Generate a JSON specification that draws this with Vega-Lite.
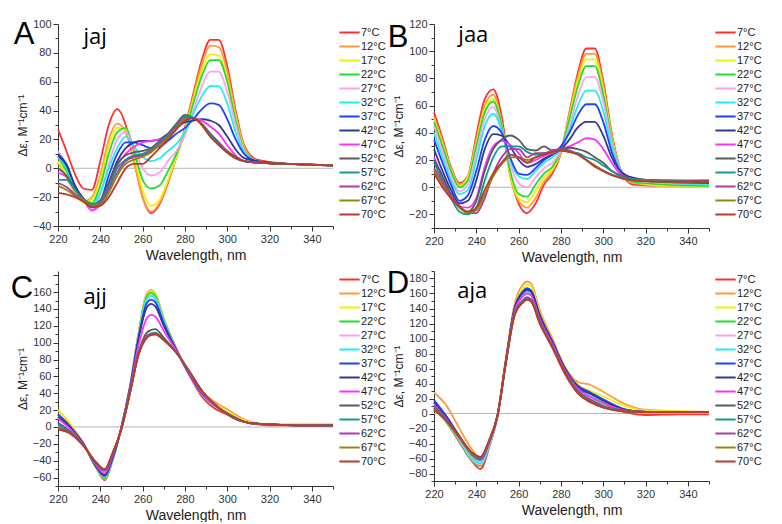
{
"$schema":"https://vega.github.io/schema/vega-lite/v6.json",
"padding":{"left":10,"top":18,"right":0,"bottom":0},
"config":{"view":{"stroke":null},"axis":{"labelFont":"Liberation Sans","labelFontSize":11,"labelColor":"#333","domainColor":"#333","tickColor":"#333","grid":false,"titleFont":"Liberation Sans","titleFontWeight":"normal","titleColor":"#222","labelOverlap":false,"labelFlush":false,"labelPadding":2,"tickCount":60},"axisX":{"titleFontSize":14,"titlePadding":4},"axisY":{"titleFontSize":12,"titlePadding":3},"legend":{"title":null,"symbolType":"M-1.4,0H1.4","symbolSize":210,"symbolStrokeWidth":2,"labelFont":"Liberation Sans","labelFontSize":11,"labelColor":"#222","rowPadding":0,"offset":4,"padding":0,"labelOffset":3}},
"datasets":{
"A":[
{"t":7,"w":220,"v":27},{"t":7,"w":224,"v":12},{"t":7,"w":228,"v":-4},{"t":7,"w":232,"v":-14},{"t":7,"w":236,"v":-15},{"t":7,"w":240,"v":5},{"t":7,"w":244,"v":30},{"t":7,"w":248,"v":41},{"t":7,"w":252,"v":30},{"t":7,"w":256,"v":5},{"t":7,"w":260,"v":-20},{"t":7,"w":264,"v":-31},{"t":7,"w":268,"v":-25},{"t":7,"w":272,"v":-10},{"t":7,"w":276,"v":8},{"t":7,"w":280,"v":28},{"t":7,"w":284,"v":52},{"t":7,"w":288,"v":75},{"t":7,"w":292,"v":89},{"t":7,"w":296,"v":89},{"t":7,"w":300,"v":71},{"t":7,"w":304,"v":40},{"t":7,"w":308,"v":16},{"t":7,"w":314,"v":6},{"t":7,"w":330,"v":3},{"t":7,"w":350,"v":2},
{"t":12,"w":220,"v":4},{"t":12,"w":224,"v":-6},{"t":12,"w":228,"v":-17},{"t":12,"w":232,"v":-23},{"t":12,"w":236,"v":-20},{"t":12,"w":240,"v":-5},{"t":12,"w":244,"v":20},{"t":12,"w":248,"v":31},{"t":12,"w":252,"v":25},{"t":12,"w":256,"v":4},{"t":12,"w":260,"v":-20},{"t":12,"w":264,"v":-30},{"t":12,"w":268,"v":-24},{"t":12,"w":272,"v":-9},{"t":12,"w":276,"v":8},{"t":12,"w":280,"v":27},{"t":12,"w":284,"v":50},{"t":12,"w":288,"v":72},{"t":12,"w":292,"v":85},{"t":12,"w":296,"v":84},{"t":12,"w":300,"v":67},{"t":12,"w":304,"v":38},{"t":12,"w":308,"v":15},{"t":12,"w":314,"v":5},{"t":12,"w":330,"v":3},{"t":12,"w":350,"v":2},
{"t":17,"w":220,"v":5},{"t":17,"w":224,"v":-5},{"t":17,"w":228,"v":-16},{"t":17,"w":232,"v":-24},{"t":17,"w":236,"v":-22},{"t":17,"w":240,"v":-8},{"t":17,"w":244,"v":15},{"t":17,"w":248,"v":28},{"t":17,"w":252,"v":27},{"t":17,"w":256,"v":8},{"t":17,"w":260,"v":-15},{"t":17,"w":264,"v":-26},{"t":17,"w":268,"v":-22},{"t":17,"w":272,"v":-8},{"t":17,"w":276,"v":8},{"t":17,"w":280,"v":26},{"t":17,"w":284,"v":48},{"t":17,"w":288,"v":68},{"t":17,"w":292,"v":79},{"t":17,"w":296,"v":78},{"t":17,"w":300,"v":62},{"t":17,"w":304,"v":35},{"t":17,"w":308,"v":14},{"t":17,"w":314,"v":5},{"t":17,"w":330,"v":3},{"t":17,"w":350,"v":2},
{"t":22,"w":220,"v":8},{"t":22,"w":224,"v":-2},{"t":22,"w":228,"v":-14},{"t":22,"w":232,"v":-22},{"t":22,"w":236,"v":-24},{"t":22,"w":240,"v":-12},{"t":22,"w":244,"v":10},{"t":22,"w":248,"v":25},{"t":22,"w":252,"v":28},{"t":22,"w":256,"v":12},{"t":22,"w":260,"v":-8},{"t":22,"w":264,"v":-14},{"t":22,"w":268,"v":-12},{"t":22,"w":272,"v":-2},{"t":22,"w":276,"v":10},{"t":22,"w":280,"v":24},{"t":22,"w":284,"v":45},{"t":22,"w":288,"v":64},{"t":22,"w":292,"v":75},{"t":22,"w":296,"v":75},{"t":22,"w":300,"v":60},{"t":22,"w":304,"v":33},{"t":22,"w":308,"v":13},{"t":22,"w":314,"v":5},{"t":22,"w":330,"v":3},{"t":22,"w":350,"v":2},
{"t":27,"w":220,"v":12},{"t":27,"w":224,"v":2},{"t":27,"w":228,"v":-12},{"t":27,"w":232,"v":-21},{"t":27,"w":236,"v":-30},{"t":27,"w":240,"v":-18},{"t":27,"w":244,"v":3},{"t":27,"w":248,"v":20},{"t":27,"w":252,"v":25},{"t":27,"w":256,"v":14},{"t":27,"w":260,"v":0},{"t":27,"w":264,"v":-5},{"t":27,"w":268,"v":-3},{"t":27,"w":272,"v":5},{"t":27,"w":276,"v":12},{"t":27,"w":280,"v":23},{"t":27,"w":284,"v":40},{"t":27,"w":288,"v":57},{"t":27,"w":292,"v":67},{"t":27,"w":296,"v":67},{"t":27,"w":300,"v":53},{"t":27,"w":304,"v":30},{"t":27,"w":308,"v":12},{"t":27,"w":314,"v":5},{"t":27,"w":330,"v":3},{"t":27,"w":350,"v":2},
{"t":32,"w":220,"v":8},{"t":32,"w":224,"v":0},{"t":32,"w":228,"v":-13},{"t":32,"w":232,"v":-21},{"t":32,"w":236,"v":-25},{"t":32,"w":240,"v":-17},{"t":32,"w":244,"v":0},{"t":32,"w":248,"v":14},{"t":32,"w":252,"v":22},{"t":32,"w":256,"v":15},{"t":32,"w":260,"v":8},{"t":32,"w":264,"v":5},{"t":32,"w":268,"v":7},{"t":32,"w":272,"v":12},{"t":32,"w":276,"v":17},{"t":32,"w":280,"v":25},{"t":32,"w":284,"v":38},{"t":32,"w":288,"v":50},{"t":32,"w":292,"v":57},{"t":32,"w":296,"v":57},{"t":32,"w":300,"v":45},{"t":32,"w":304,"v":25},{"t":32,"w":308,"v":11},{"t":32,"w":314,"v":5},{"t":32,"w":330,"v":3},{"t":32,"w":350,"v":2},
{"t":37,"w":220,"v":10},{"t":37,"w":224,"v":3},{"t":37,"w":228,"v":-12},{"t":37,"w":232,"v":-21},{"t":37,"w":236,"v":-27},{"t":37,"w":240,"v":-23},{"t":37,"w":244,"v":-5},{"t":37,"w":248,"v":10},{"t":37,"w":252,"v":18},{"t":37,"w":256,"v":18},{"t":37,"w":260,"v":16},{"t":37,"w":264,"v":14},{"t":37,"w":268,"v":15},{"t":37,"w":272,"v":19},{"t":37,"w":276,"v":24},{"t":37,"w":280,"v":28},{"t":37,"w":284,"v":34},{"t":37,"w":288,"v":41},{"t":37,"w":292,"v":45},{"t":37,"w":296,"v":44},{"t":37,"w":300,"v":34},{"t":37,"w":304,"v":20},{"t":37,"w":308,"v":10},{"t":37,"w":314,"v":5},{"t":37,"w":330,"v":3},{"t":37,"w":350,"v":2},
{"t":42,"w":220,"v":9},{"t":42,"w":224,"v":2},{"t":42,"w":228,"v":-12},{"t":42,"w":232,"v":-22},{"t":42,"w":236,"v":-27},{"t":42,"w":240,"v":-24},{"t":42,"w":244,"v":-10},{"t":42,"w":248,"v":5},{"t":42,"w":252,"v":14},{"t":42,"w":256,"v":18},{"t":42,"w":260,"v":19},{"t":42,"w":264,"v":19},{"t":42,"w":268,"v":20},{"t":42,"w":272,"v":24},{"t":42,"w":276,"v":28},{"t":42,"w":280,"v":32},{"t":42,"w":284,"v":33},{"t":42,"w":288,"v":34},{"t":42,"w":292,"v":33},{"t":42,"w":296,"v":30},{"t":42,"w":300,"v":22},{"t":42,"w":304,"v":13},{"t":42,"w":308,"v":7},{"t":42,"w":314,"v":5},{"t":42,"w":330,"v":3},{"t":42,"w":350,"v":2},
{"t":47,"w":220,"v":-3},{"t":47,"w":224,"v":-6},{"t":47,"w":228,"v":-15},{"t":47,"w":232,"v":-22},{"t":47,"w":236,"v":-29},{"t":47,"w":240,"v":-25},{"t":47,"w":244,"v":-12},{"t":47,"w":248,"v":2},{"t":47,"w":252,"v":10},{"t":47,"w":256,"v":15},{"t":47,"w":260,"v":18},{"t":47,"w":264,"v":19},{"t":47,"w":268,"v":20},{"t":47,"w":272,"v":22},{"t":47,"w":276,"v":28},{"t":47,"w":280,"v":33},{"t":47,"w":284,"v":35},{"t":47,"w":288,"v":33},{"t":47,"w":292,"v":29},{"t":47,"w":296,"v":24},{"t":47,"w":300,"v":16},{"t":47,"w":304,"v":9},{"t":47,"w":308,"v":5},{"t":47,"w":314,"v":4},{"t":47,"w":330,"v":3},{"t":47,"w":350,"v":2},
{"t":52,"w":220,"v":0},{"t":52,"w":224,"v":-5},{"t":52,"w":228,"v":-14},{"t":52,"w":232,"v":-21},{"t":52,"w":236,"v":-25},{"t":52,"w":240,"v":-22},{"t":52,"w":244,"v":-10},{"t":52,"w":248,"v":3},{"t":52,"w":252,"v":9},{"t":52,"w":256,"v":11},{"t":52,"w":260,"v":12},{"t":52,"w":264,"v":14},{"t":52,"w":268,"v":19},{"t":52,"w":272,"v":24},{"t":52,"w":276,"v":31},{"t":52,"w":280,"v":37},{"t":52,"w":284,"v":35},{"t":52,"w":288,"v":31},{"t":52,"w":292,"v":24},{"t":52,"w":296,"v":18},{"t":52,"w":300,"v":12},{"t":52,"w":304,"v":8},{"t":52,"w":308,"v":5},{"t":52,"w":314,"v":4},{"t":52,"w":330,"v":3},{"t":52,"w":350,"v":2},
{"t":57,"w":220,"v":-8},{"t":57,"w":224,"v":-8},{"t":57,"w":228,"v":-15},{"t":57,"w":232,"v":-22},{"t":57,"w":236,"v":-25},{"t":57,"w":240,"v":-23},{"t":57,"w":244,"v":-13},{"t":57,"w":248,"v":0},{"t":57,"w":252,"v":6},{"t":57,"w":256,"v":9},{"t":57,"w":260,"v":10},{"t":57,"w":264,"v":13},{"t":57,"w":268,"v":18},{"t":57,"w":272,"v":23},{"t":57,"w":276,"v":30},{"t":57,"w":280,"v":36},{"t":57,"w":284,"v":35},{"t":57,"w":288,"v":30},{"t":57,"w":292,"v":23},{"t":57,"w":296,"v":17},{"t":57,"w":300,"v":11},{"t":57,"w":304,"v":7},{"t":57,"w":308,"v":5},{"t":57,"w":314,"v":4},{"t":57,"w":330,"v":3},{"t":57,"w":350,"v":2},
{"t":62,"w":220,"v":-10},{"t":62,"w":224,"v":-13},{"t":62,"w":228,"v":-18},{"t":62,"w":232,"v":-22},{"t":62,"w":236,"v":-26},{"t":62,"w":240,"v":-24},{"t":62,"w":244,"v":-15},{"t":62,"w":248,"v":-3},{"t":62,"w":252,"v":5},{"t":62,"w":256,"v":8},{"t":62,"w":260,"v":9},{"t":62,"w":264,"v":12},{"t":62,"w":268,"v":17},{"t":62,"w":272,"v":22},{"t":62,"w":276,"v":29},{"t":62,"w":280,"v":35},{"t":62,"w":284,"v":35},{"t":62,"w":288,"v":30},{"t":62,"w":292,"v":22},{"t":62,"w":296,"v":17},{"t":62,"w":300,"v":11},{"t":62,"w":304,"v":7},{"t":62,"w":308,"v":5},{"t":62,"w":314,"v":4},{"t":62,"w":330,"v":3},{"t":62,"w":350,"v":2},
{"t":67,"w":220,"v":-12},{"t":67,"w":224,"v":-15},{"t":67,"w":228,"v":-19},{"t":67,"w":232,"v":-22},{"t":67,"w":236,"v":-26},{"t":67,"w":240,"v":-25},{"t":67,"w":244,"v":-17},{"t":67,"w":248,"v":-5},{"t":67,"w":252,"v":3},{"t":67,"w":256,"v":6},{"t":67,"w":260,"v":8},{"t":67,"w":264,"v":11},{"t":67,"w":268,"v":16},{"t":67,"w":272,"v":21},{"t":67,"w":276,"v":28},{"t":67,"w":280,"v":34},{"t":67,"w":284,"v":35},{"t":67,"w":288,"v":30},{"t":67,"w":292,"v":22},{"t":67,"w":296,"v":16},{"t":67,"w":300,"v":11},{"t":67,"w":304,"v":7},{"t":67,"w":308,"v":5},{"t":67,"w":314,"v":4},{"t":67,"w":330,"v":3},{"t":67,"w":350,"v":2},
{"t":70,"w":220,"v":-17},{"t":70,"w":224,"v":-18},{"t":70,"w":228,"v":-20},{"t":70,"w":232,"v":-23},{"t":70,"w":236,"v":-27},{"t":70,"w":240,"v":-26},{"t":70,"w":244,"v":-20},{"t":70,"w":248,"v":-10},{"t":70,"w":252,"v":0},{"t":70,"w":256,"v":3},{"t":70,"w":260,"v":3},{"t":70,"w":264,"v":8},{"t":70,"w":268,"v":14},{"t":70,"w":272,"v":20},{"t":70,"w":276,"v":27},{"t":70,"w":280,"v":33},{"t":70,"w":284,"v":35},{"t":70,"w":288,"v":30},{"t":70,"w":292,"v":22},{"t":70,"w":296,"v":16},{"t":70,"w":300,"v":11},{"t":70,"w":304,"v":7},{"t":70,"w":308,"v":5},{"t":70,"w":314,"v":4},{"t":70,"w":330,"v":3},{"t":70,"w":350,"v":2}
],
"B":[
{"t":7,"w":220,"v":55},{"t":7,"w":224,"v":36},{"t":7,"w":228,"v":15},{"t":7,"w":232,"v":3},{"t":7,"w":236,"v":8},{"t":7,"w":240,"v":38},{"t":7,"w":244,"v":65},{"t":7,"w":248,"v":72},{"t":7,"w":252,"v":52},{"t":7,"w":256,"v":10},{"t":7,"w":260,"v":-12},{"t":7,"w":264,"v":-19},{"t":7,"w":268,"v":-12},{"t":7,"w":272,"v":2},{"t":7,"w":276,"v":10},{"t":7,"w":280,"v":25},{"t":7,"w":284,"v":55},{"t":7,"w":288,"v":84},{"t":7,"w":292,"v":102},{"t":7,"w":296,"v":102},{"t":7,"w":300,"v":78},{"t":7,"w":304,"v":40},{"t":7,"w":308,"v":14},{"t":7,"w":314,"v":2},{"t":7,"w":330,"v":1},{"t":7,"w":350,"v":1},
{"t":12,"w":220,"v":52},{"t":12,"w":224,"v":34},{"t":12,"w":228,"v":14},{"t":12,"w":232,"v":2},{"t":12,"w":236,"v":8},{"t":12,"w":240,"v":35},{"t":12,"w":244,"v":60},{"t":12,"w":248,"v":68},{"t":12,"w":252,"v":47},{"t":12,"w":256,"v":8},{"t":12,"w":260,"v":-10},{"t":12,"w":264,"v":-15},{"t":12,"w":268,"v":-8},{"t":12,"w":272,"v":4},{"t":12,"w":276,"v":12},{"t":12,"w":280,"v":26},{"t":12,"w":284,"v":54},{"t":12,"w":288,"v":81},{"t":12,"w":292,"v":98},{"t":12,"w":296,"v":98},{"t":12,"w":300,"v":75},{"t":12,"w":304,"v":38},{"t":12,"w":308,"v":13},{"t":12,"w":314,"v":3},{"t":12,"w":330,"v":1},{"t":12,"w":350,"v":1},
{"t":17,"w":220,"v":50},{"t":17,"w":224,"v":32},{"t":17,"w":228,"v":13},{"t":17,"w":232,"v":1},{"t":17,"w":236,"v":7},{"t":17,"w":240,"v":32},{"t":17,"w":244,"v":58},{"t":17,"w":248,"v":65},{"t":17,"w":252,"v":46},{"t":17,"w":256,"v":10},{"t":17,"w":260,"v":-8},{"t":17,"w":264,"v":-11},{"t":17,"w":268,"v":-3},{"t":17,"w":272,"v":7},{"t":17,"w":276,"v":13},{"t":17,"w":280,"v":26},{"t":17,"w":284,"v":52},{"t":17,"w":288,"v":78},{"t":17,"w":292,"v":94},{"t":17,"w":296,"v":94},{"t":17,"w":300,"v":72},{"t":17,"w":304,"v":37},{"t":17,"w":308,"v":13},{"t":17,"w":314,"v":4},{"t":17,"w":330,"v":1},{"t":17,"w":350,"v":1},
{"t":22,"w":220,"v":48},{"t":22,"w":224,"v":30},{"t":22,"w":228,"v":12},{"t":22,"w":232,"v":0},{"t":22,"w":236,"v":5},{"t":22,"w":240,"v":30},{"t":22,"w":244,"v":55},{"t":22,"w":248,"v":63},{"t":22,"w":252,"v":45},{"t":22,"w":256,"v":12},{"t":22,"w":260,"v":-5},{"t":22,"w":264,"v":-7},{"t":22,"w":268,"v":2},{"t":22,"w":272,"v":10},{"t":22,"w":276,"v":15},{"t":22,"w":280,"v":27},{"t":22,"w":284,"v":50},{"t":22,"w":288,"v":74},{"t":22,"w":292,"v":89},{"t":22,"w":296,"v":89},{"t":22,"w":300,"v":68},{"t":22,"w":304,"v":35},{"t":22,"w":308,"v":13},{"t":22,"w":314,"v":4},{"t":22,"w":330,"v":2},{"t":22,"w":350,"v":1},
{"t":27,"w":220,"v":45},{"t":27,"w":224,"v":26},{"t":27,"w":228,"v":8},{"t":27,"w":232,"v":-3},{"t":27,"w":236,"v":2},{"t":27,"w":240,"v":25},{"t":27,"w":244,"v":50},{"t":27,"w":248,"v":59},{"t":27,"w":252,"v":42},{"t":27,"w":256,"v":17},{"t":27,"w":260,"v":3},{"t":27,"w":264,"v":0},{"t":27,"w":268,"v":7},{"t":27,"w":272,"v":14},{"t":27,"w":276,"v":18},{"t":27,"w":280,"v":27},{"t":27,"w":284,"v":45},{"t":27,"w":288,"v":67},{"t":27,"w":292,"v":81},{"t":27,"w":296,"v":81},{"t":27,"w":300,"v":63},{"t":27,"w":304,"v":33},{"t":27,"w":308,"v":13},{"t":27,"w":314,"v":5},{"t":27,"w":330,"v":3},{"t":27,"w":350,"v":2},
{"t":32,"w":220,"v":40},{"t":32,"w":224,"v":22},{"t":32,"w":228,"v":5},{"t":32,"w":232,"v":-5},{"t":32,"w":236,"v":-2},{"t":32,"w":240,"v":20},{"t":32,"w":244,"v":45},{"t":32,"w":248,"v":54},{"t":32,"w":252,"v":42},{"t":32,"w":256,"v":20},{"t":32,"w":260,"v":8},{"t":32,"w":264,"v":6},{"t":32,"w":268,"v":12},{"t":32,"w":272,"v":18},{"t":32,"w":276,"v":22},{"t":32,"w":280,"v":28},{"t":32,"w":284,"v":42},{"t":32,"w":288,"v":60},{"t":32,"w":292,"v":71},{"t":32,"w":296,"v":71},{"t":32,"w":300,"v":56},{"t":32,"w":304,"v":30},{"t":32,"w":308,"v":13},{"t":32,"w":314,"v":6},{"t":32,"w":330,"v":3},{"t":32,"w":350,"v":2},
{"t":37,"w":220,"v":35},{"t":37,"w":224,"v":18},{"t":37,"w":228,"v":2},{"t":37,"w":232,"v":-10},{"t":37,"w":236,"v":-6},{"t":37,"w":240,"v":12},{"t":37,"w":244,"v":35},{"t":37,"w":248,"v":45},{"t":37,"w":252,"v":40},{"t":37,"w":256,"v":22},{"t":37,"w":260,"v":10},{"t":37,"w":264,"v":9},{"t":37,"w":268,"v":14},{"t":37,"w":272,"v":20},{"t":37,"w":276,"v":24},{"t":37,"w":280,"v":30},{"t":37,"w":284,"v":40},{"t":37,"w":288,"v":53},{"t":37,"w":292,"v":61},{"t":37,"w":296,"v":61},{"t":37,"w":300,"v":48},{"t":37,"w":304,"v":26},{"t":37,"w":308,"v":12},{"t":37,"w":314,"v":6},{"t":37,"w":330,"v":4},{"t":37,"w":350,"v":3},
{"t":42,"w":220,"v":28},{"t":42,"w":224,"v":12},{"t":42,"w":228,"v":-2},{"t":42,"w":232,"v":-12},{"t":42,"w":236,"v":-10},{"t":42,"w":240,"v":5},{"t":42,"w":244,"v":28},{"t":42,"w":248,"v":39},{"t":42,"w":252,"v":38},{"t":42,"w":256,"v":30},{"t":42,"w":260,"v":20},{"t":42,"w":264,"v":15},{"t":42,"w":268,"v":17},{"t":42,"w":272,"v":21},{"t":42,"w":276,"v":24},{"t":42,"w":280,"v":28},{"t":42,"w":284,"v":35},{"t":42,"w":288,"v":44},{"t":42,"w":292,"v":48},{"t":42,"w":296,"v":48},{"t":42,"w":300,"v":38},{"t":42,"w":304,"v":22},{"t":42,"w":308,"v":12},{"t":42,"w":314,"v":7},{"t":42,"w":330,"v":4},{"t":42,"w":350,"v":4},
{"t":47,"w":220,"v":22},{"t":47,"w":224,"v":8},{"t":47,"w":228,"v":-6},{"t":47,"w":232,"v":-14},{"t":47,"w":236,"v":-15},{"t":47,"w":240,"v":-8},{"t":47,"w":244,"v":15},{"t":47,"w":248,"v":30},{"t":47,"w":252,"v":34},{"t":47,"w":256,"v":31},{"t":47,"w":260,"v":25},{"t":47,"w":264,"v":18},{"t":47,"w":268,"v":20},{"t":47,"w":272,"v":23},{"t":47,"w":276,"v":25},{"t":47,"w":280,"v":28},{"t":47,"w":284,"v":30},{"t":47,"w":288,"v":33},{"t":47,"w":292,"v":36},{"t":47,"w":296,"v":35},{"t":47,"w":300,"v":28},{"t":47,"w":304,"v":18},{"t":47,"w":308,"v":10},{"t":47,"w":314,"v":6},{"t":47,"w":330,"v":4},{"t":47,"w":350,"v":4},
{"t":52,"w":220,"v":20},{"t":52,"w":224,"v":8},{"t":52,"w":228,"v":-5},{"t":52,"w":232,"v":-15},{"t":52,"w":236,"v":-18},{"t":52,"w":240,"v":-10},{"t":52,"w":244,"v":12},{"t":52,"w":248,"v":28},{"t":52,"w":252,"v":35},{"t":52,"w":256,"v":38},{"t":52,"w":260,"v":35},{"t":52,"w":264,"v":28},{"t":52,"w":268,"v":27},{"t":52,"w":272,"v":30},{"t":52,"w":276,"v":27},{"t":52,"w":280,"v":28},{"t":52,"w":284,"v":29},{"t":52,"w":288,"v":28},{"t":52,"w":292,"v":26},{"t":52,"w":296,"v":22},{"t":52,"w":300,"v":18},{"t":52,"w":304,"v":12},{"t":52,"w":308,"v":9},{"t":52,"w":314,"v":6},{"t":52,"w":330,"v":5},{"t":52,"w":350,"v":4},
{"t":57,"w":220,"v":18},{"t":57,"w":224,"v":5},{"t":57,"w":228,"v":-8},{"t":57,"w":232,"v":-18},{"t":57,"w":236,"v":-20},{"t":57,"w":240,"v":-15},{"t":57,"w":244,"v":5},{"t":57,"w":248,"v":22},{"t":57,"w":252,"v":30},{"t":57,"w":256,"v":30},{"t":57,"w":260,"v":30},{"t":57,"w":264,"v":26},{"t":57,"w":268,"v":24},{"t":57,"w":272,"v":25},{"t":57,"w":276,"v":26},{"t":57,"w":280,"v":27},{"t":57,"w":284,"v":26},{"t":57,"w":288,"v":25},{"t":57,"w":292,"v":22},{"t":57,"w":296,"v":20},{"t":57,"w":300,"v":16},{"t":57,"w":304,"v":12},{"t":57,"w":308,"v":8},{"t":57,"w":314,"v":6},{"t":57,"w":330,"v":5},{"t":57,"w":350,"v":5},
{"t":62,"w":220,"v":14},{"t":62,"w":224,"v":4},{"t":62,"w":228,"v":-6},{"t":62,"w":232,"v":-14},{"t":62,"w":236,"v":-19},{"t":62,"w":240,"v":-19},{"t":62,"w":244,"v":-8},{"t":62,"w":248,"v":10},{"t":62,"w":252,"v":22},{"t":62,"w":256,"v":28},{"t":62,"w":260,"v":28},{"t":62,"w":264,"v":22},{"t":62,"w":268,"v":25},{"t":62,"w":272,"v":25},{"t":62,"w":276,"v":27},{"t":62,"w":280,"v":28},{"t":62,"w":284,"v":27},{"t":62,"w":288,"v":24},{"t":62,"w":292,"v":20},{"t":62,"w":296,"v":16},{"t":62,"w":300,"v":12},{"t":62,"w":304,"v":9},{"t":62,"w":308,"v":7},{"t":62,"w":314,"v":5},{"t":62,"w":330,"v":4},{"t":62,"w":350,"v":5},
{"t":67,"w":220,"v":12},{"t":67,"w":224,"v":2},{"t":67,"w":228,"v":-8},{"t":67,"w":232,"v":-15},{"t":67,"w":236,"v":-19},{"t":67,"w":240,"v":-17},{"t":67,"w":244,"v":-5},{"t":67,"w":248,"v":8},{"t":67,"w":252,"v":17},{"t":67,"w":256,"v":22},{"t":67,"w":260,"v":22},{"t":67,"w":264,"v":20},{"t":67,"w":268,"v":22},{"t":67,"w":272,"v":24},{"t":67,"w":276,"v":26},{"t":67,"w":280,"v":27},{"t":67,"w":284,"v":26},{"t":67,"w":288,"v":24},{"t":67,"w":292,"v":20},{"t":67,"w":296,"v":16},{"t":67,"w":300,"v":12},{"t":67,"w":304,"v":9},{"t":67,"w":308,"v":7},{"t":67,"w":314,"v":5},{"t":67,"w":330,"v":4},{"t":67,"w":350,"v":4},
{"t":70,"w":220,"v":10},{"t":70,"w":224,"v":0},{"t":70,"w":228,"v":-8},{"t":70,"w":232,"v":-14},{"t":70,"w":236,"v":-18},{"t":70,"w":240,"v":-15},{"t":70,"w":244,"v":-2},{"t":70,"w":248,"v":10},{"t":70,"w":252,"v":18},{"t":70,"w":256,"v":24},{"t":70,"w":260,"v":22},{"t":70,"w":264,"v":18},{"t":70,"w":268,"v":22},{"t":70,"w":272,"v":24},{"t":70,"w":276,"v":26},{"t":70,"w":280,"v":27},{"t":70,"w":284,"v":26},{"t":70,"w":288,"v":24},{"t":70,"w":292,"v":20},{"t":70,"w":296,"v":15},{"t":70,"w":300,"v":12},{"t":70,"w":304,"v":9},{"t":70,"w":308,"v":7},{"t":70,"w":314,"v":5},{"t":70,"w":330,"v":4},{"t":70,"w":350,"v":4}
],
"C":[
{"t":7,"w":220,"v":15},{"t":7,"w":226,"v":0},{"t":7,"w":232,"v":-20},{"t":7,"w":238,"v":-48},{"t":7,"w":242,"v":-63},{"t":7,"w":246,"v":-38},{"t":7,"w":250,"v":0},{"t":7,"w":254,"v":48},{"t":7,"w":258,"v":110},{"t":7,"w":262,"v":158},{"t":7,"w":264,"v":162},{"t":7,"w":266,"v":158},{"t":7,"w":270,"v":128},{"t":7,"w":276,"v":92},{"t":7,"w":282,"v":62},{"t":7,"w":288,"v":36},{"t":7,"w":294,"v":22},{"t":7,"w":300,"v":15},{"t":7,"w":310,"v":5},{"t":7,"w":320,"v":2},{"t":7,"w":335,"v":2},{"t":7,"w":350,"v":2},
{"t":12,"w":220,"v":20},{"t":12,"w":226,"v":3},{"t":12,"w":232,"v":-19},{"t":12,"w":238,"v":-48},{"t":12,"w":242,"v":-62},{"t":12,"w":246,"v":-38},{"t":12,"w":250,"v":0},{"t":12,"w":254,"v":48},{"t":12,"w":258,"v":110},{"t":12,"w":262,"v":158},{"t":12,"w":264,"v":162},{"t":12,"w":266,"v":158},{"t":12,"w":270,"v":129},{"t":12,"w":276,"v":93},{"t":12,"w":282,"v":64},{"t":12,"w":288,"v":42},{"t":12,"w":294,"v":30},{"t":12,"w":300,"v":21},{"t":12,"w":310,"v":7},{"t":12,"w":320,"v":3},{"t":12,"w":335,"v":3},{"t":12,"w":350,"v":3},
{"t":17,"w":220,"v":20},{"t":17,"w":226,"v":3},{"t":17,"w":232,"v":-20},{"t":17,"w":238,"v":-48},{"t":17,"w":242,"v":-61},{"t":17,"w":246,"v":-38},{"t":17,"w":250,"v":0},{"t":17,"w":254,"v":48},{"t":17,"w":258,"v":109},{"t":17,"w":262,"v":157},{"t":17,"w":264,"v":161},{"t":17,"w":266,"v":157},{"t":17,"w":270,"v":128},{"t":17,"w":276,"v":92},{"t":17,"w":282,"v":63},{"t":17,"w":288,"v":40},{"t":17,"w":294,"v":27},{"t":17,"w":300,"v":18},{"t":17,"w":310,"v":6},{"t":17,"w":320,"v":3},{"t":17,"w":335,"v":2},{"t":17,"w":350,"v":2},
{"t":22,"w":220,"v":15},{"t":22,"w":226,"v":0},{"t":22,"w":232,"v":-20},{"t":22,"w":238,"v":-48},{"t":22,"w":242,"v":-61},{"t":22,"w":246,"v":-37},{"t":22,"w":250,"v":0},{"t":22,"w":254,"v":47},{"t":22,"w":258,"v":108},{"t":22,"w":262,"v":155},{"t":22,"w":264,"v":159},{"t":22,"w":266,"v":155},{"t":22,"w":270,"v":127},{"t":22,"w":276,"v":92},{"t":22,"w":282,"v":63},{"t":22,"w":288,"v":39},{"t":22,"w":294,"v":25},{"t":22,"w":300,"v":16},{"t":22,"w":310,"v":5},{"t":22,"w":320,"v":3},{"t":22,"w":335,"v":2},{"t":22,"w":350,"v":2},
{"t":27,"w":220,"v":12},{"t":27,"w":226,"v":-1},{"t":27,"w":232,"v":-20},{"t":27,"w":238,"v":-47},{"t":27,"w":242,"v":-59},{"t":27,"w":246,"v":-37},{"t":27,"w":250,"v":0},{"t":27,"w":254,"v":47},{"t":27,"w":258,"v":107},{"t":27,"w":262,"v":151},{"t":27,"w":264,"v":155},{"t":27,"w":266,"v":152},{"t":27,"w":270,"v":125},{"t":27,"w":276,"v":91},{"t":27,"w":282,"v":63},{"t":27,"w":288,"v":39},{"t":27,"w":294,"v":25},{"t":27,"w":300,"v":16},{"t":27,"w":310,"v":5},{"t":27,"w":320,"v":3},{"t":27,"w":335,"v":2},{"t":27,"w":350,"v":2},
{"t":32,"w":220,"v":14},{"t":32,"w":226,"v":-1},{"t":32,"w":232,"v":-20},{"t":32,"w":238,"v":-47},{"t":32,"w":242,"v":-59},{"t":32,"w":246,"v":-37},{"t":32,"w":250,"v":0},{"t":32,"w":254,"v":47},{"t":32,"w":258,"v":107},{"t":32,"w":262,"v":152},{"t":32,"w":264,"v":156},{"t":32,"w":266,"v":152},{"t":32,"w":270,"v":125},{"t":32,"w":276,"v":91},{"t":32,"w":282,"v":63},{"t":32,"w":288,"v":39},{"t":32,"w":294,"v":25},{"t":32,"w":300,"v":16},{"t":32,"w":310,"v":5},{"t":32,"w":320,"v":3},{"t":32,"w":335,"v":2},{"t":32,"w":350,"v":2},
{"t":37,"w":220,"v":15},{"t":37,"w":226,"v":0},{"t":37,"w":232,"v":-20},{"t":37,"w":238,"v":-47},{"t":37,"w":242,"v":-58},{"t":37,"w":246,"v":-36},{"t":37,"w":250,"v":0},{"t":37,"w":254,"v":46},{"t":37,"w":258,"v":105},{"t":37,"w":262,"v":147},{"t":37,"w":264,"v":151},{"t":37,"w":266,"v":148},{"t":37,"w":270,"v":123},{"t":37,"w":276,"v":91},{"t":37,"w":282,"v":63},{"t":37,"w":288,"v":40},{"t":37,"w":294,"v":26},{"t":37,"w":300,"v":16},{"t":37,"w":310,"v":5},{"t":37,"w":320,"v":3},{"t":37,"w":335,"v":2},{"t":37,"w":350,"v":2},
{"t":42,"w":220,"v":12},{"t":42,"w":226,"v":-1},{"t":42,"w":232,"v":-20},{"t":42,"w":238,"v":-46},{"t":42,"w":242,"v":-57},{"t":42,"w":246,"v":-35},{"t":42,"w":250,"v":0},{"t":42,"w":254,"v":46},{"t":42,"w":258,"v":103},{"t":42,"w":262,"v":142},{"t":42,"w":264,"v":146},{"t":42,"w":266,"v":143},{"t":42,"w":270,"v":120},{"t":42,"w":276,"v":91},{"t":42,"w":282,"v":63},{"t":42,"w":288,"v":40},{"t":42,"w":294,"v":26},{"t":42,"w":300,"v":16},{"t":42,"w":310,"v":5},{"t":42,"w":320,"v":3},{"t":42,"w":335,"v":2},{"t":42,"w":350,"v":2},
{"t":47,"w":220,"v":10},{"t":47,"w":226,"v":-3},{"t":47,"w":232,"v":-21},{"t":47,"w":238,"v":-45},{"t":47,"w":242,"v":-55},{"t":47,"w":246,"v":-33},{"t":47,"w":250,"v":-1},{"t":47,"w":254,"v":44},{"t":47,"w":258,"v":96},{"t":47,"w":262,"v":129},{"t":47,"w":264,"v":133},{"t":47,"w":266,"v":131},{"t":47,"w":270,"v":114},{"t":47,"w":276,"v":90},{"t":47,"w":282,"v":64},{"t":47,"w":288,"v":41},{"t":47,"w":294,"v":26},{"t":47,"w":300,"v":15},{"t":47,"w":310,"v":5},{"t":47,"w":320,"v":3},{"t":47,"w":335,"v":2},{"t":47,"w":350,"v":2},
{"t":52,"w":220,"v":5},{"t":52,"w":226,"v":-6},{"t":52,"w":232,"v":-22},{"t":52,"w":238,"v":-43},{"t":52,"w":242,"v":-52},{"t":52,"w":246,"v":-31},{"t":52,"w":250,"v":-2},{"t":52,"w":254,"v":41},{"t":52,"w":258,"v":88},{"t":52,"w":262,"v":112},{"t":52,"w":264,"v":115},{"t":52,"w":266,"v":116},{"t":52,"w":270,"v":106},{"t":52,"w":276,"v":88},{"t":52,"w":282,"v":66},{"t":52,"w":288,"v":43},{"t":52,"w":294,"v":27},{"t":52,"w":300,"v":15},{"t":52,"w":310,"v":5},{"t":52,"w":320,"v":3},{"t":52,"w":335,"v":2},{"t":52,"w":350,"v":2},
{"t":57,"w":220,"v":3},{"t":57,"w":226,"v":-7},{"t":57,"w":232,"v":-22},{"t":57,"w":238,"v":-42},{"t":57,"w":242,"v":-51},{"t":57,"w":246,"v":-30},{"t":57,"w":250,"v":-2},{"t":57,"w":254,"v":40},{"t":57,"w":258,"v":86},{"t":57,"w":262,"v":108},{"t":57,"w":264,"v":111},{"t":57,"w":266,"v":112},{"t":57,"w":270,"v":104},{"t":57,"w":276,"v":88},{"t":57,"w":282,"v":66},{"t":57,"w":288,"v":43},{"t":57,"w":294,"v":27},{"t":57,"w":300,"v":15},{"t":57,"w":310,"v":5},{"t":57,"w":320,"v":3},{"t":57,"w":335,"v":2},{"t":57,"w":350,"v":2},
{"t":62,"w":220,"v":0},{"t":62,"w":226,"v":-8},{"t":62,"w":232,"v":-22},{"t":62,"w":238,"v":-42},{"t":62,"w":242,"v":-51},{"t":62,"w":246,"v":-30},{"t":62,"w":250,"v":-2},{"t":62,"w":254,"v":40},{"t":62,"w":258,"v":85},{"t":62,"w":262,"v":107},{"t":62,"w":264,"v":110},{"t":62,"w":266,"v":111},{"t":62,"w":270,"v":103},{"t":62,"w":276,"v":88},{"t":62,"w":282,"v":66},{"t":62,"w":288,"v":43},{"t":62,"w":294,"v":27},{"t":62,"w":300,"v":15},{"t":62,"w":310,"v":5},{"t":62,"w":320,"v":3},{"t":62,"w":335,"v":2},{"t":62,"w":350,"v":2},
{"t":67,"w":220,"v":-2},{"t":67,"w":226,"v":-8},{"t":67,"w":232,"v":-22},{"t":67,"w":238,"v":-42},{"t":67,"w":242,"v":-50},{"t":67,"w":246,"v":-30},{"t":67,"w":250,"v":-2},{"t":67,"w":254,"v":40},{"t":67,"w":258,"v":85},{"t":67,"w":262,"v":106},{"t":67,"w":264,"v":109},{"t":67,"w":266,"v":110},{"t":67,"w":270,"v":103},{"t":67,"w":276,"v":88},{"t":67,"w":282,"v":66},{"t":67,"w":288,"v":43},{"t":67,"w":294,"v":27},{"t":67,"w":300,"v":15},{"t":67,"w":310,"v":5},{"t":67,"w":320,"v":3},{"t":67,"w":335,"v":2},{"t":67,"w":350,"v":2},
{"t":70,"w":220,"v":-3},{"t":70,"w":226,"v":-8},{"t":70,"w":232,"v":-22},{"t":70,"w":238,"v":-42},{"t":70,"w":242,"v":-50},{"t":70,"w":246,"v":-30},{"t":70,"w":250,"v":-2},{"t":70,"w":254,"v":40},{"t":70,"w":258,"v":85},{"t":70,"w":262,"v":106},{"t":70,"w":264,"v":109},{"t":70,"w":266,"v":110},{"t":70,"w":270,"v":103},{"t":70,"w":276,"v":88},{"t":70,"w":282,"v":66},{"t":70,"w":288,"v":43},{"t":70,"w":294,"v":27},{"t":70,"w":300,"v":15},{"t":70,"w":310,"v":5},{"t":70,"w":320,"v":3},{"t":70,"w":335,"v":2},{"t":70,"w":350,"v":2}
],
"D":[
{"t":7,"w":220,"v":8},{"t":7,"w":226,"v":-12},{"t":7,"w":232,"v":-38},{"t":7,"w":238,"v":-64},{"t":7,"w":242,"v":-74},{"t":7,"w":246,"v":-46},{"t":7,"w":250,"v":-4},{"t":7,"w":254,"v":70},{"t":7,"w":258,"v":135},{"t":7,"w":262,"v":158},{"t":7,"w":264,"v":162},{"t":7,"w":266,"v":158},{"t":7,"w":270,"v":124},{"t":7,"w":276,"v":88},{"t":7,"w":282,"v":52},{"t":7,"w":288,"v":28},{"t":7,"w":294,"v":18},{"t":7,"w":300,"v":10},{"t":7,"w":310,"v":2},{"t":7,"w":320,"v":-2},{"t":7,"w":335,"v":-1},{"t":7,"w":350,"v":-1},
{"t":12,"w":220,"v":28},{"t":12,"w":226,"v":10},{"t":12,"w":232,"v":-20},{"t":12,"w":238,"v":-48},{"t":12,"w":242,"v":-60},{"t":12,"w":246,"v":-36},{"t":12,"w":250,"v":-2},{"t":12,"w":254,"v":74},{"t":12,"w":258,"v":145},{"t":12,"w":262,"v":172},{"t":12,"w":264,"v":176},{"t":12,"w":266,"v":173},{"t":12,"w":270,"v":138},{"t":12,"w":276,"v":100},{"t":12,"w":282,"v":62},{"t":12,"w":288,"v":42},{"t":12,"w":294,"v":38},{"t":12,"w":300,"v":29},{"t":12,"w":310,"v":13},{"t":12,"w":320,"v":5},{"t":12,"w":335,"v":3},{"t":12,"w":350,"v":2},
{"t":17,"w":220,"v":14},{"t":17,"w":226,"v":-5},{"t":17,"w":232,"v":-30},{"t":17,"w":238,"v":-57},{"t":17,"w":242,"v":-66},{"t":17,"w":246,"v":-41},{"t":17,"w":250,"v":-3},{"t":17,"w":254,"v":72},{"t":17,"w":258,"v":141},{"t":17,"w":262,"v":167},{"t":17,"w":264,"v":172},{"t":17,"w":266,"v":169},{"t":17,"w":270,"v":135},{"t":17,"w":276,"v":97},{"t":17,"w":282,"v":60},{"t":17,"w":288,"v":38},{"t":17,"w":294,"v":30},{"t":17,"w":300,"v":23},{"t":17,"w":310,"v":10},{"t":17,"w":320,"v":4},{"t":17,"w":335,"v":3},{"t":17,"w":350,"v":2},
{"t":22,"w":220,"v":10},{"t":22,"w":226,"v":-12},{"t":22,"w":232,"v":-37},{"t":22,"w":238,"v":-63},{"t":22,"w":242,"v":-70},{"t":22,"w":246,"v":-44},{"t":22,"w":250,"v":-4},{"t":22,"w":254,"v":70},{"t":22,"w":258,"v":137},{"t":22,"w":262,"v":160},{"t":22,"w":264,"v":164},{"t":22,"w":266,"v":161},{"t":22,"w":270,"v":128},{"t":22,"w":276,"v":91},{"t":22,"w":282,"v":55},{"t":22,"w":288,"v":30},{"t":22,"w":294,"v":20},{"t":22,"w":300,"v":13},{"t":22,"w":310,"v":4},{"t":22,"w":320,"v":2},{"t":22,"w":335,"v":2},{"t":22,"w":350,"v":2},
{"t":27,"w":220,"v":12},{"t":27,"w":226,"v":-10},{"t":27,"w":232,"v":-35},{"t":27,"w":238,"v":-61},{"t":27,"w":242,"v":-68},{"t":27,"w":246,"v":-43},{"t":27,"w":250,"v":-4},{"t":27,"w":254,"v":70},{"t":27,"w":258,"v":136},{"t":27,"w":262,"v":157},{"t":27,"w":264,"v":161},{"t":27,"w":266,"v":158},{"t":27,"w":270,"v":126},{"t":27,"w":276,"v":90},{"t":27,"w":282,"v":55},{"t":27,"w":288,"v":31},{"t":27,"w":294,"v":21},{"t":27,"w":300,"v":14},{"t":27,"w":310,"v":4},{"t":27,"w":320,"v":1},{"t":27,"w":335,"v":1},{"t":27,"w":350,"v":1},
{"t":32,"w":220,"v":14},{"t":32,"w":226,"v":-8},{"t":32,"w":232,"v":-33},{"t":32,"w":238,"v":-59},{"t":32,"w":242,"v":-66},{"t":32,"w":246,"v":-42},{"t":32,"w":250,"v":-4},{"t":32,"w":254,"v":70},{"t":32,"w":258,"v":137},{"t":32,"w":262,"v":159},{"t":32,"w":264,"v":163},{"t":32,"w":266,"v":160},{"t":32,"w":270,"v":128},{"t":32,"w":276,"v":92},{"t":32,"w":282,"v":57},{"t":32,"w":288,"v":33},{"t":32,"w":294,"v":23},{"t":32,"w":300,"v":15},{"t":32,"w":310,"v":5},{"t":32,"w":320,"v":2},{"t":32,"w":335,"v":2},{"t":32,"w":350,"v":2},
{"t":37,"w":220,"v":18},{"t":37,"w":226,"v":-4},{"t":37,"w":232,"v":-30},{"t":37,"w":238,"v":-55},{"t":37,"w":242,"v":-62},{"t":37,"w":246,"v":-39},{"t":37,"w":250,"v":-3},{"t":37,"w":254,"v":71},{"t":37,"w":258,"v":140},{"t":37,"w":262,"v":163},{"t":37,"w":264,"v":167},{"t":37,"w":266,"v":164},{"t":37,"w":270,"v":132},{"t":37,"w":276,"v":96},{"t":37,"w":282,"v":60},{"t":37,"w":288,"v":37},{"t":37,"w":294,"v":28},{"t":37,"w":300,"v":19},{"t":37,"w":310,"v":6},{"t":37,"w":320,"v":2},{"t":37,"w":335,"v":2},{"t":37,"w":350,"v":2},
{"t":42,"w":220,"v":15},{"t":42,"w":226,"v":-6},{"t":42,"w":232,"v":-31},{"t":42,"w":238,"v":-54},{"t":42,"w":242,"v":-60},{"t":42,"w":246,"v":-38},{"t":42,"w":250,"v":-3},{"t":42,"w":254,"v":71},{"t":42,"w":258,"v":139},{"t":42,"w":262,"v":161},{"t":42,"w":264,"v":165},{"t":42,"w":266,"v":162},{"t":42,"w":270,"v":130},{"t":42,"w":276,"v":95},{"t":42,"w":282,"v":59},{"t":42,"w":288,"v":35},{"t":42,"w":294,"v":26},{"t":42,"w":300,"v":17},{"t":42,"w":310,"v":5},{"t":42,"w":320,"v":2},{"t":42,"w":335,"v":2},{"t":42,"w":350,"v":2},
{"t":47,"w":220,"v":12},{"t":47,"w":226,"v":-8},{"t":47,"w":232,"v":-32},{"t":47,"w":238,"v":-55},{"t":47,"w":242,"v":-61},{"t":47,"w":246,"v":-39},{"t":47,"w":250,"v":-3},{"t":47,"w":254,"v":70},{"t":47,"w":258,"v":136},{"t":47,"w":262,"v":156},{"t":47,"w":264,"v":160},{"t":47,"w":266,"v":157},{"t":47,"w":270,"v":126},{"t":47,"w":276,"v":92},{"t":47,"w":282,"v":57},{"t":47,"w":288,"v":33},{"t":47,"w":294,"v":22},{"t":47,"w":300,"v":14},{"t":47,"w":310,"v":4},{"t":47,"w":320,"v":2},{"t":47,"w":335,"v":2},{"t":47,"w":350,"v":2},
{"t":52,"w":220,"v":10},{"t":52,"w":226,"v":-9},{"t":52,"w":232,"v":-32},{"t":52,"w":238,"v":-54},{"t":52,"w":242,"v":-60},{"t":52,"w":246,"v":-38},{"t":52,"w":250,"v":-3},{"t":52,"w":254,"v":69},{"t":52,"w":258,"v":133},{"t":52,"w":262,"v":151},{"t":52,"w":264,"v":155},{"t":52,"w":266,"v":152},{"t":52,"w":270,"v":123},{"t":52,"w":276,"v":89},{"t":52,"w":282,"v":55},{"t":52,"w":288,"v":30},{"t":52,"w":294,"v":18},{"t":52,"w":300,"v":10},{"t":52,"w":310,"v":4},{"t":52,"w":320,"v":2},{"t":52,"w":335,"v":2},{"t":52,"w":350,"v":2},
{"t":57,"w":220,"v":8},{"t":57,"w":226,"v":-10},{"t":57,"w":232,"v":-32},{"t":57,"w":238,"v":-54},{"t":57,"w":242,"v":-60},{"t":57,"w":246,"v":-38},{"t":57,"w":250,"v":-3},{"t":57,"w":254,"v":69},{"t":57,"w":258,"v":132},{"t":57,"w":262,"v":150},{"t":57,"w":264,"v":154},{"t":57,"w":266,"v":151},{"t":57,"w":270,"v":122},{"t":57,"w":276,"v":89},{"t":57,"w":282,"v":55},{"t":57,"w":288,"v":29},{"t":57,"w":294,"v":17},{"t":57,"w":300,"v":9},{"t":57,"w":310,"v":4},{"t":57,"w":320,"v":2},{"t":57,"w":335,"v":2},{"t":57,"w":350,"v":2},
{"t":62,"w":220,"v":6},{"t":62,"w":226,"v":-10},{"t":62,"w":232,"v":-32},{"t":62,"w":238,"v":-53},{"t":62,"w":242,"v":-59},{"t":62,"w":246,"v":-37},{"t":62,"w":250,"v":-3},{"t":62,"w":254,"v":68},{"t":62,"w":258,"v":131},{"t":62,"w":262,"v":149},{"t":62,"w":264,"v":153},{"t":62,"w":266,"v":150},{"t":62,"w":270,"v":121},{"t":62,"w":276,"v":88},{"t":62,"w":282,"v":54},{"t":62,"w":288,"v":28},{"t":62,"w":294,"v":16},{"t":62,"w":300,"v":8},{"t":62,"w":310,"v":3},{"t":62,"w":320,"v":2},{"t":62,"w":335,"v":2},{"t":62,"w":350,"v":2},
{"t":67,"w":220,"v":5},{"t":67,"w":226,"v":-10},{"t":67,"w":232,"v":-32},{"t":67,"w":238,"v":-53},{"t":67,"w":242,"v":-58},{"t":67,"w":246,"v":-37},{"t":67,"w":250,"v":-3},{"t":67,"w":254,"v":68},{"t":67,"w":258,"v":130},{"t":67,"w":262,"v":148},{"t":67,"w":264,"v":152},{"t":67,"w":266,"v":149},{"t":67,"w":270,"v":120},{"t":67,"w":276,"v":88},{"t":67,"w":282,"v":54},{"t":67,"w":288,"v":27},{"t":67,"w":294,"v":15},{"t":67,"w":300,"v":8},{"t":67,"w":310,"v":3},{"t":67,"w":320,"v":2},{"t":67,"w":335,"v":2},{"t":67,"w":350,"v":2},
{"t":70,"w":220,"v":5},{"t":70,"w":226,"v":-10},{"t":70,"w":232,"v":-31},{"t":70,"w":238,"v":-52},{"t":70,"w":242,"v":-58},{"t":70,"w":246,"v":-36},{"t":70,"w":250,"v":-3},{"t":70,"w":254,"v":68},{"t":70,"w":258,"v":130},{"t":70,"w":262,"v":148},{"t":70,"w":264,"v":152},{"t":70,"w":266,"v":149},{"t":70,"w":270,"v":120},{"t":70,"w":276,"v":88},{"t":70,"w":282,"v":54},{"t":70,"w":288,"v":27},{"t":70,"w":294,"v":15},{"t":70,"w":300,"v":8},{"t":70,"w":310,"v":3},{"t":70,"w":320,"v":2},{"t":70,"w":335,"v":2},{"t":70,"w":350,"v":2}
]
},
"columns":2,
"spacing":{"row":1,"column":0},
"resolve":{"scale":{"color":"independent","x":"independent","y":"independent"},"legend":{"color":"independent"}},
"concat":[
{"width":275,"height":202,"layer":[
{"data":{"values":[{}]},"mark":{"type":"rule","color":"#b4b4b4","strokeWidth":1},"encoding":{"y":{"datum":0}}},
{"data":{"name":"A"},"mark":{"type":"line","strokeWidth":1.8,"interpolate":"monotone"},"encoding":{
"x":{"field":"w","type":"quantitative","scale":{"domain":[220,350],"nice":false,"zero":false},"axis":{"title":"Wavelength, nm","tickCount":60,"labelOverlap":false,"labelFlush":false,"values":[220,230,240,250,260,270,280,290,300,310,320,330,340,350],"labelExpr":"datum.value % 20 == 0 ? datum.label : ''","tickSize":{"condition":{"test":"datum.value % 20 == 0","value":5},"value":3}}},
"y":{"field":"v","type":"quantitative","scale":{"domain":[-40,100],"nice":false,"zero":false},"axis":{"title":"Δε, M⁻¹cm⁻¹","tickCount":60,"labelOverlap":false,"labelFlush":false,"values":[-40,-30,-20,-10,0,10,20,30,40,50,60,70,80,90,100],"labelExpr":"datum.value % 20 == 0 ? datum.label : ''","tickSize":{"condition":{"test":"datum.value % 20 == 0","value":5},"value":3}}},
"color":{"field":"t","type":"ordinal","scale":{"domain":[7,12,17,22,27,32,37,42,47,52,57,62,67,70],"range":["#ff3030","#ff9a40","#f0f000","#20dd30","#ffa0f0","#20eef0","#2040ff","#303895","#ff30ff","#5a5a5a","#109898","#b03aa0","#8a8a10","#b83a30"]},"legend":{"labelExpr":"datum.label + '°C'"}}}},
{"data":{"values":[{"s":"A"}]},"mark":{"type":"text","fontSize":31,"font":"Liberation Sans","align":"center","baseline":"alphabetic","color":"#000"},"encoding":{"x":{"datum":204},"y":{"datum":86},"text":{"field":"s"}}},
{"data":{"values":[{"s":"jaj"}]},"mark":{"type":"text","fontSize":22,"font":"Open Sans","align":"left","baseline":"alphabetic","color":"#000"},"encoding":{"x":{"datum":232},"y":{"datum":86},"text":{"field":"s"}}}
]},
{"width":275,"height":204,"layer":[
{"data":{"values":[{}]},"mark":{"type":"rule","color":"#b4b4b4","strokeWidth":1},"encoding":{"y":{"datum":0}}},
{"data":{"name":"B"},"mark":{"type":"line","strokeWidth":1.8,"interpolate":"monotone"},"encoding":{
"x":{"field":"w","type":"quantitative","scale":{"domain":[220,350],"nice":false,"zero":false},"axis":{"title":"Wavelength, nm","tickCount":60,"labelOverlap":false,"labelFlush":false,"values":[220,230,240,250,260,270,280,290,300,310,320,330,340,350],"labelExpr":"datum.value % 20 == 0 ? datum.label : ''","tickSize":{"condition":{"test":"datum.value % 20 == 0","value":5},"value":3}}},
"y":{"field":"v","type":"quantitative","scale":{"domain":[-30,120],"nice":false,"zero":false},"axis":{"title":"Δε, M⁻¹cm⁻¹","tickCount":60,"labelOverlap":false,"labelFlush":false,"values":[-30,-20,-10,0,10,20,30,40,50,60,70,80,90,100,110,120],"labelExpr":"datum.value % 20 == 0 ? datum.label : ''","tickSize":{"condition":{"test":"datum.value % 20 == 0","value":5},"value":3}}},
"color":{"field":"t","type":"ordinal","scale":{"domain":[7,12,17,22,27,32,37,42,47,52,57,62,67,70],"range":["#ff3030","#ff9a40","#f0f000","#20dd30","#ffa0f0","#20eef0","#2040ff","#303895","#ff30ff","#5a5a5a","#109898","#b03aa0","#8a8a10","#b83a30"]},"legend":{"labelExpr":"datum.label + '°C'"}}}},
{"data":{"values":[{"s":"B"}]},"mark":{"type":"text","fontSize":31,"font":"Liberation Sans","align":"center","baseline":"alphabetic","color":"#000"},"encoding":{"x":{"datum":203},"y":{"datum":103},"text":{"field":"s"}}},
{"data":{"values":[{"s":"jaa"}]},"mark":{"type":"text","fontSize":22,"font":"Open Sans","align":"left","baseline":"alphabetic","color":"#000"},"encoding":{"x":{"datum":231.5},"y":{"datum":107},"text":{"field":"s"}}}
]},
{"width":275,"height":215,"layer":[
{"data":{"values":[{}]},"mark":{"type":"rule","color":"#b4b4b4","strokeWidth":1},"encoding":{"y":{"datum":0}}},
{"data":{"name":"C"},"mark":{"type":"line","strokeWidth":1.8,"interpolate":"monotone"},"encoding":{
"x":{"field":"w","type":"quantitative","scale":{"domain":[220,350],"nice":false,"zero":false},"axis":{"title":"Wavelength, nm","tickCount":60,"labelOverlap":false,"labelFlush":false,"values":[220,230,240,250,260,270,280,290,300,310,320,330,340,350],"labelExpr":"datum.value % 20 == 0 ? datum.label : ''","tickSize":{"condition":{"test":"datum.value % 20 == 0","value":5},"value":3}}},
"y":{"field":"v","type":"quantitative","scale":{"domain":[-70,185],"nice":false,"zero":false},"axis":{"title":"Δε, M⁻¹cm⁻¹","tickCount":60,"labelOverlap":false,"labelFlush":false,"values":[-70,-60,-50,-40,-30,-20,-10,0,10,20,30,40,50,60,70,80,90,100,110,120,130,140,150,160,170,180],"labelExpr":"datum.value % 20 == 0 && datum.value <= 160 ? datum.label : ''","tickSize":{"condition":{"test":"datum.value % 20 == 0","value":5},"value":3}}},
"color":{"field":"t","type":"ordinal","scale":{"domain":[7,12,17,22,27,32,37,42,47,52,57,62,67,70],"range":["#ff3030","#ff9a40","#f0f000","#20dd30","#ffa0f0","#20eef0","#2040ff","#303895","#ff30ff","#5a5a5a","#109898","#b03aa0","#8a8a10","#b83a30"]},"legend":{"labelExpr":"datum.label + '°C'"}}}},
{"data":{"values":[{"s":"C"}]},"mark":{"type":"text","fontSize":31,"font":"Liberation Sans","align":"center","baseline":"alphabetic","color":"#000"},"encoding":{"x":{"datum":203},"y":{"datum":153},"text":{"field":"s"}}},
{"data":{"values":[{"s":"ajj"}]},"mark":{"type":"text","fontSize":22,"font":"Open Sans","align":"left","baseline":"alphabetic","color":"#000"},"encoding":{"x":{"datum":232},"y":{"datum":146},"text":{"field":"s"}}}
]},
{"width":275,"height":210,"layer":[
{"data":{"values":[{}]},"mark":{"type":"rule","color":"#b4b4b4","strokeWidth":1},"encoding":{"y":{"datum":0}}},
{"data":{"name":"D"},"mark":{"type":"line","strokeWidth":1.8,"interpolate":"monotone"},"encoding":{
"x":{"field":"w","type":"quantitative","scale":{"domain":[220,350],"nice":false,"zero":false},"axis":{"title":"Wavelength, nm","tickCount":60,"labelOverlap":false,"labelFlush":false,"values":[220,230,240,250,260,270,280,290,300,310,320,330,340,350],"labelExpr":"datum.value % 20 == 0 ? datum.label : ''","tickSize":{"condition":{"test":"datum.value % 20 == 0","value":5},"value":3}}},
"y":{"field":"v","type":"quantitative","scale":{"domain":[-90,190],"nice":false,"zero":false},"axis":{"title":"Δε, M⁻¹cm⁻¹","tickCount":60,"labelOverlap":false,"labelFlush":false,"values":[-90,-80,-70,-60,-50,-40,-30,-20,-10,0,10,20,30,40,50,60,70,80,90,100,110,120,130,140,150,160,170,180,190],"labelExpr":"datum.value % 20 == 0 ? datum.label : ''","tickSize":{"condition":{"test":"datum.value % 20 == 0","value":5},"value":3}}},
"color":{"field":"t","type":"ordinal","scale":{"domain":[7,12,17,22,27,32,37,42,47,52,57,62,67,70],"range":["#ff3030","#ff9a40","#f0f000","#20dd30","#ffa0f0","#20eef0","#2040ff","#303895","#ff30ff","#5a5a5a","#109898","#b03aa0","#8a8a10","#b83a30"]},"legend":{"labelExpr":"datum.label + '°C'"}}}},
{"data":{"values":[{"s":"D"}]},"mark":{"type":"text","fontSize":31,"font":"Liberation Sans","align":"center","baseline":"alphabetic","color":"#000"},"encoding":{"x":{"datum":203},"y":{"datum":161},"text":{"field":"s"}}},
{"data":{"values":[{"s":"aja"}]},"mark":{"type":"text","fontSize":22,"font":"Open Sans","align":"left","baseline":"alphabetic","color":"#000"},"encoding":{"x":{"datum":231},"y":{"datum":154},"text":{"field":"s"}}}
]}
]
}
